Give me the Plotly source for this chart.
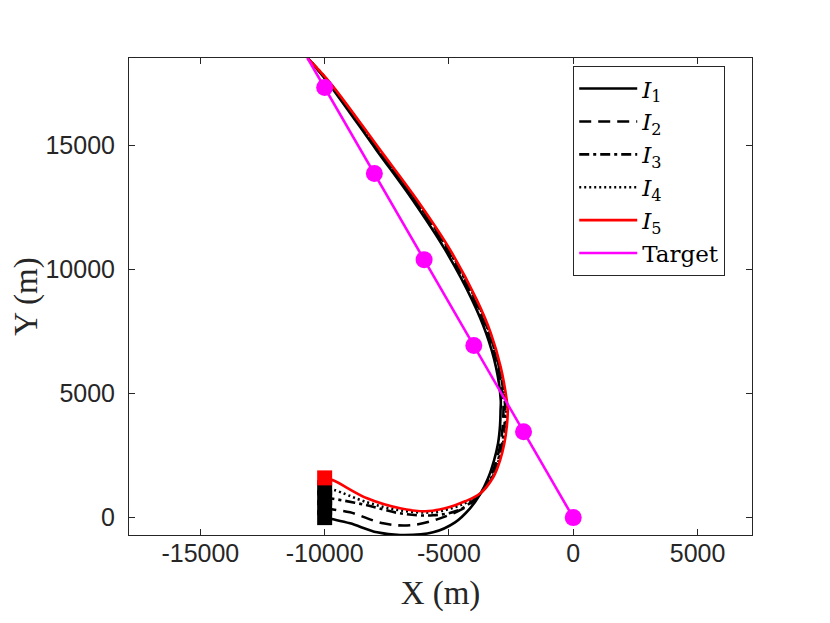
import plotly.graph_objects as go

# trajectories (metres)
i1_x = [-10000, -9661, -8977, -7891, -6966, -5639, -4754, -4151, -3748, -3427, -3185, -3024, -2944, -2924, -2916,
        -3110, -3510, -4070, -5150, -6460, -7920, -9860, -10690]
i1_y = [0, -69, -230, -593, -700, -593, -190, 375, 939, 1584, 2310, 2996, 3722, 4326, 4729,
        6070, 7440, 8770, 10780, 12790, 14810, 17510, 18510]

i2_x = [-10000, -9661, -8977, -7649, -6563, -5357, -4231, -3748, -3342, -3089, -2923, -2836, -2808, -2820,
        -3025, -3425, -3985, -5060, -6380, -7853, -9824, -10690]
i2_y = [400, 330, 214, -230, -310, -30, 488, 951, 1605, 2310, 2996, 3694, 4326, 4729,
        6070, 7440, 8770, 10780, 12790, 14810, 17510, 18510]

i3_x = [-10000, -9661, -8293, -6966, -5639, -4553, -3748, -3289, -3029, -2860, -2769, -2735, -2759,
        -2986, -3386, -3946, -5020, -6343, -7822, -9808, -10690]
i3_y = [800, 760, 496, 173, 93, 330, 958, 1618, 2310, 2996, 3677, 4326, 4729,
        6070, 7440, 8770, 10780, 12790, 14810, 17510, 18510]

i4_x = [-10000, -9661, -8293, -6966, -5639, -4700, -4312, -3748, -3256, -2994, -2822, -2727, -2692, -2723,
        -2958, -3358, -3918, -4990, -6316, -7800, -9796, -10690]
i4_y = [1200, 1130, 617, 294, 214, 440, 601, 962, 1627, 2310, 2996, 3667, 4326, 4729,
        6070, 7440, 8770, 10780, 12790, 14810, 17510, 18510]

i5_x = [-10000, -9661, -8293, -6966, -5961, -5156, -4352, -3748, -3214, -2944, -2771, -2675, -2634, -2675,
        -2920, -3320, -3880, -4950, -6280, -7770, -9780, -10690]
i5_y = [1600, 1504, 778, 375, 254, 375, 657, 968, 1637, 2310, 2996, 3653, 4326, 4729,
        6070, 7440, 8770, 10780, 12790, 14810, 17510, 18510]

target_x = [0, -2000, -4000, -6000, -8000, -10000, -10690]
target_y = [0, 3460, 6930, 10390, 13860, 17320, 18510]

start_x = [-10000, -10000, -10000, -10000, -10000]
start_y = [0, 400, 800, 1200, 1600]

x_ticks = [-15000, -10000, -5000, 0, 5000]
y_ticks = [0, 5000, 10000, 15000]

fig = go.Figure()

curves = [
    (i1_x, i1_y, '<i>I</i><sub>1</sub>', 'black', 'solid'),
    (i2_x, i2_y, '<i>I</i><sub>2</sub>', 'black', '12px,7px'),
    (i3_x, i3_y, '<i>I</i><sub>3</sub>', 'black', '10px,4px,3px,4px'),
    (i4_x, i4_y, '<i>I</i><sub>4</sub>', 'black', '2px,3px'),
    (i5_x, i5_y, '<i>I</i><sub>5</sub>', '#ff0000', 'solid'),
]
for xs, ys, name, color, dash in curves:
    fig.add_trace(go.Scatter(
        x=xs, y=ys, mode='lines', name=name,
        line=dict(color=color, width=2.6, dash=dash, shape='spline', smoothing=1)
    ))

fig.add_trace(go.Scatter(
    x=target_x, y=target_y, mode='lines', name='Target',
    line=dict(color='#ff00ff', width=2.6)
))
# target positions
fig.add_trace(go.Scatter(
    x=target_x[:-1], y=target_y[:-1], mode='markers', showlegend=False,
    marker=dict(color='#ff00ff', size=17, symbol='circle')
))
# launch points
fig.add_trace(go.Scatter(
    x=start_x, y=start_y, mode='markers', showlegend=False,
    marker=dict(color=['black', 'black', 'black', 'black', '#ff0000'], size=15, symbol='square')
))

axis_common = dict(
    showline=True, linecolor='#262626', linewidth=1, mirror='ticks',
    ticks='inside', ticklen=6, tickcolor='#262626', showgrid=False, zeroline=False,
    tickfont=dict(family='Liberation Sans, Arial', size=25, color='#262626'),
    automargin=False,
)

fig.update_xaxes(
    range=[-17870, 7190], tickvals=x_ticks, ticktext=[str(v) for v in x_ticks],
    title=dict(text='X (m)', font=dict(family='Liberation Serif, Times New Roman', size=33, color='#262626'),
               standoff=14),
    ticklabelstandoff=-4, **axis_common
)
fig.update_yaxes(
    range=[-700, 18510], tickvals=y_ticks, ticktext=[str(v) for v in y_ticks],
    title=dict(text='Y (m)', font=dict(family='Liberation Serif, Times New Roman', size=33, color='#262626'),
               standoff=17),
    ticklabelstandoff=8, **axis_common
)

# the page body adds 8px on the left and top
fig.update_layout(
    width=830, height=623,
    margin=dict(l=121, r=86, t=50, b=96),
    plot_bgcolor='white', paper_bgcolor='white',
    legend=dict(
        x=0.957, y=0.983, xanchor='right', yanchor='top',
        bordercolor='#262626', borderwidth=1, bgcolor='white',
        font=dict(family='DejaVu Serif', size=23, color='black'),
        itemwidth=58, tracegroupgap=0,
    ),
)

fig.write_html("out.html")
